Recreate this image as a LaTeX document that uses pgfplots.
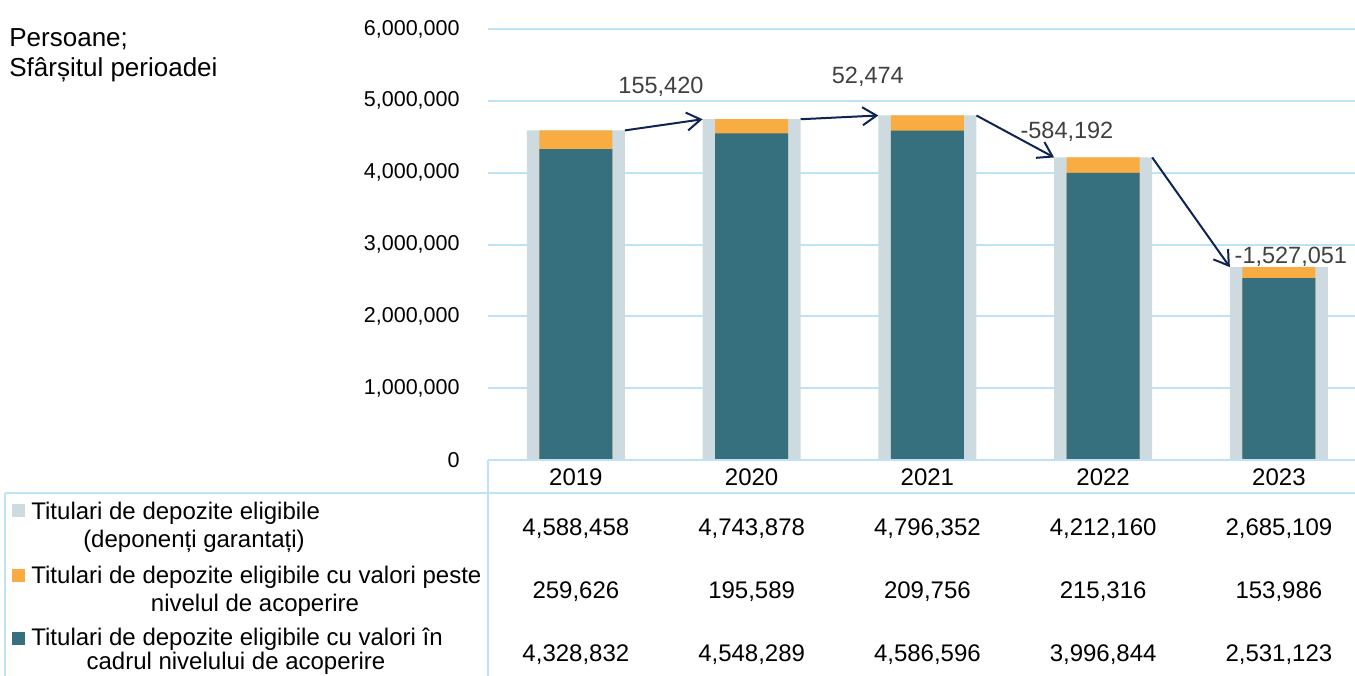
\documentclass[border=0pt]{standalone}
\usepackage{pgfplots}
\pgfplotsset{compat=1.18}
\usepackage{pgfplotstable}
\usetikzlibrary{arrows.meta}
\usepackage{fontspec}
\setmainfont{Liberation Sans}
\definecolor{gbar}{HTML}{CDDBE1}
\definecolor{obar}{HTML}{F8AC42}
\definecolor{tbar}{HTML}{366F7E}
\definecolor{gridc}{HTML}{BEE3F8}
\definecolor{arr}{HTML}{0E2453}
\definecolor{dlab}{HTML}{404040}
\newcommand\tck{\fontsize{10.75}{13}\selectfont}
\newcommand\tbl{\fontsize{12}{14}\selectfont}
\newcommand\ttl{\fontsize{13}{15}\selectfont}
\newcommand\dl{\fontsize{11.75}{14}\selectfont}

\pgfplotstableread{
x total above within
0 4588458 259626 4328832
1 4743878 195589 4548289
2 4796352 209756 4586596
3 4212160 215316 3996844
4 2685109 153986 2531123
}\data

\begin{document}
\begin{tikzpicture}
\begin{axis}[at={(0,0)}, anchor=south west, scale only axis,
  width=433.5pt, height=215.5pt,
  xmin=-0.5, xmax=4.433, ymin=0, ymax=6000000, clip=false,
  axis line style={draw=none}, major tick length=0pt,
  xtick={0,1,2,3,4}, xticklabels={2019,2020,2021,2022,2023},
  xticklabel style={font=\tbl, anchor=center, yshift=-8.5pt, inner sep=0pt, text depth=0pt},
  ytick={0,1000000,2000000,3000000,4000000,5000000,6000000},
  scaled y ticks=false,
  yticklabel style={font=\tck, anchor=east, inner sep=0pt, xshift=-14pt,
    /pgf/number format/.cd, fixed, 1000 sep={,}, assume math mode=true},
  ymajorgrids, grid style={draw=gridc, line width=1pt},
]
\addplot[ybar, bar width=0.558, bar shift=0pt, fill=gbar, draw=none] table[x=x,y=total]{\data};
\addplot[ybar, bar width=0.415, bar shift=0pt, fill=obar, draw=none] table[x=x,y expr=\thisrow{within}+\thisrow{above}]{\data};
\addplot[ybar, bar width=0.415, bar shift=0pt, fill=tbar, draw=none] table[x=x,y=within]{\data};

\addplot[arr, line width=1pt, -{Straight Barb[length=7pt,width=9pt]}] coordinates {(0.279,4588458) (0.721,4743878)};
\addplot[arr, line width=1pt, -{Straight Barb[length=7pt,width=9pt]}] coordinates {(1.279,4743878) (1.721,4796352)};
\addplot[arr, line width=1pt, -{Straight Barb[length=7pt,width=9pt]}] coordinates {(2.279,4796352) (2.721,4212160)};
\addplot[arr, line width=1pt, -{Straight Barb[length=7pt,width=9pt]}] coordinates {(3.279,4212160) (3.721,2685109)};

\node[font=\dl, text=dlab, text depth=0pt, inner sep=0pt] at (axis cs:0.484,5220400) {155,420};
\node[font=\dl, text=dlab, text depth=0pt, inner sep=0pt] at (axis cs:1.661,5359600) {52,474};
\node[font=\dl, text=dlab, text depth=0pt, inner sep=0pt] at (axis cs:2.794,4594000) {-584,192};
\node[font=\dl, text=dlab, text depth=0pt, inner sep=0pt] at (axis cs:4.068,2853800) {-1,527,051};

\begin{scope}[every node/.style={font=\tbl, text depth=0pt, inner sep=0pt}]
\node at ([yshift=-33.5pt]axis cs:0,0) {4,588,458};
\node at ([yshift=-33.5pt]axis cs:1,0) {4,743,878};
\node at ([yshift=-33.5pt]axis cs:2,0) {4,796,352};
\node at ([yshift=-33.5pt]axis cs:3,0) {4,212,160};
\node at ([yshift=-33.5pt]axis cs:4,0) {2,685,109};
\node at ([yshift=-65pt]axis cs:0,0) {259,626};
\node at ([yshift=-65pt]axis cs:1,0) {195,589};
\node at ([yshift=-65pt]axis cs:2,0) {209,756};
\node at ([yshift=-65pt]axis cs:3,0) {215,316};
\node at ([yshift=-65pt]axis cs:4,0) {153,986};
\node at ([yshift=-96.5pt]axis cs:0,0) {4,328,832};
\node at ([yshift=-96.5pt]axis cs:1,0) {4,548,289};
\node at ([yshift=-96.5pt]axis cs:2,0) {4,586,596};
\node at ([yshift=-96.5pt]axis cs:3,0) {3,996,844};
\node at ([yshift=-96.5pt]axis cs:4,0) {2,531,123};
\end{scope}
\end{axis}

% table frame
\draw[gridc, line width=1pt] (0pt,0pt) -- (433.5pt,0pt);
\draw[gridc, line width=1pt] (-241.5pt,-16.5pt) -- (433.5pt,-16.5pt);
\draw[gridc, line width=1pt] (-241.5pt,-16.5pt) -- (-241.5pt,-110pt);
\draw[gridc, line width=1pt] (0pt,0pt) -- (0pt,-110pt);

% legend keys
\fill[gbar] (-238pt,-28.5pt) rectangle ++(6.5pt,6.5pt);
\fill[obar] (-238pt,-61pt) rectangle ++(6.5pt,6.5pt);
\fill[tbar] (-238pt,-92.5pt) rectangle ++(6.5pt,6.5pt);

\begin{scope}[every node/.style={font=\tbl, inner sep=0pt}]
\node[anchor=base west] at (-228.5pt,-29.5pt) {Titulari de depozite eligibile};
\node[anchor=base] at (-147pt,-43.5pt) {(deponenți garantați)};
\node[anchor=base west] at (-228.5pt,-61.5pt) {Titulari de depozite eligibile cu valori peste};
\node[anchor=base] at (-116.5pt,-75.5pt) {nivelul de acoperire};
\node[anchor=base west] at (-228.5pt,-92.5pt) {Titulari de depozite eligibile cu valori în};
\node[anchor=base] at (-126pt,-104.5pt) {cadrul nivelului de acoperire};
\end{scope}

% title
\node[font=\ttl, anchor=base west, inner sep=0pt] at (-239.5pt,206.5pt) {Persoane;};
\node[font=\ttl, anchor=base west, inner sep=0pt] at (-239.5pt,191.5pt) {Sfârșitul perioadei};

\pgfresetboundingbox
\path[use as bounding box] (-244pt,-107.5pt) rectangle (433.5pt,230pt);
\end{tikzpicture}
\end{document}
